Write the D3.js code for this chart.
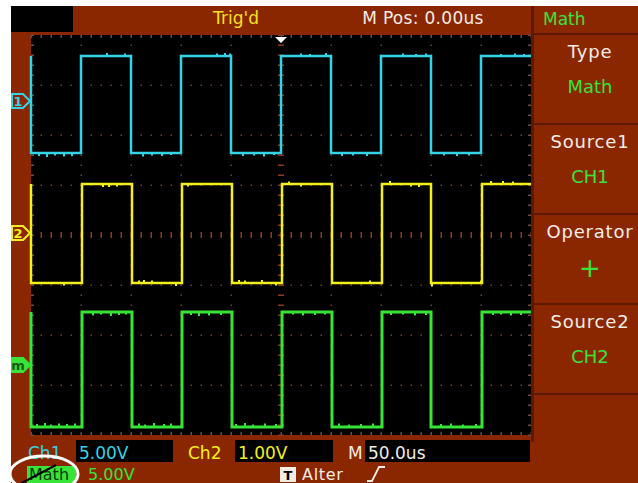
<!DOCTYPE html>
<html>
<head>
<meta charset="utf-8">
<script src="https://cdn.jsdelivr.net/npm/d3@7"></script>
<style>
  body { margin: 0; background: #fff; }
  svg { display: block; }
  text { font-family: "DejaVu Sans", sans-serif; }
</style>
</head>
<body>
<svg id="scope" width="638" height="483"></svg>
<script>
// Time base: 10 divisions of 50us, vertical: 8 divisions (values in screen divisions)
var timeDomain = [0, 500];
var divDomain = [-4, 4];

// Edge times (us) for each trace: first point is the falling edge at the left border
var ch1Edges = [0, 50, 100, 150, 200, 250, 300, 350, 400, 450];
var ch2Edges = [0, 51, 101, 151, 201, 251, 301, 351, 400, 451];
var mathEdges = [0, 51, 101, 151, 201, 251, 301, 351, 400, 451];

// High / low levels and ground marker (divisions from centre)
var ch1Levels = [3.58, 1.64];
var ch2Levels = [1.02, -0.96];
var mathLevels = [-1.54, -3.84];
var markerLevels = [2.68, 0.04, -2.6];

// Small noise spikes [time us, delta div]
var ch1Spikes = [[8, -0.06], [16, -0.08], [24, -0.05], [33, -0.07], [41, -0.06], [76, 0.06], [94, 0.05], [112, -0.07], [121, -0.05], [131, -0.06], [140, -0.04], [186, 0.05], [194, 0.06], [199, 0.05], [212, -0.06], [223, -0.05], [233, -0.07], [243, -0.04], [270, 0.05], [279, 0.04], [295, 0.06], [311, -0.06], [322, -0.05], [336, -0.06], [372, 0.05], [385, 0.04], [395, 0.05], [413, -0.05], [426, -0.06], [438, -0.05], [470, 0.04], [484, 0.05], [493, 0.04]];
var ch2Spikes = [[33, -0.05], [72, -0.06], [78, -0.06], [86, -0.05], [108, 0.05], [113, 0.06], [121, 0.05], [145, -0.06], [157, -0.05], [208, 0.06], [214, 0.05], [231, 0.06], [245, -0.05], [258, 0.05], [270, -0.05], [339, 0.05], [359, 0.06], [380, -0.05], [388, -0.06], [401, -0.07], [450, 0.05], [460, 0.06], [472, 0.06], [482, 0.05]];
var mathSpikes = [[6, 0.06], [14, 0.08], [20, 0.05], [28, 0.07], [36, 0.06], [44, 0.07], [62, -0.07], [70, -0.05], [80, -0.08], [88, -0.06], [95, -0.05], [108, 0.07], [114, 0.05], [123, 0.08], [133, 0.06], [140, 0.07], [160, -0.06], [168, -0.08], [178, -0.07], [190, -0.06], [205, 0.06], [214, 0.08], [222, 0.05], [234, 0.07], [245, 0.06], [262, -0.05], [272, -0.07], [284, -0.06], [294, -0.05], [308, 0.07], [318, 0.05], [330, 0.06], [342, 0.07], [360, -0.06], [372, -0.05], [384, -0.07], [395, -0.06], [410, 0.06], [420, 0.07], [432, 0.05], [445, 0.06], [462, -0.06], [470, -0.05], [480, -0.07], [490, -0.06]];

var panelLabels = ["Type", "Source1", "Operator", "Source2"];
var panelValues = ["Math", "CH1", "+", "CH2"];

var brown = "#8b2700";
var darkBrown = "#5e1800";
var cyan = "#35d3e6";
var yellow = "#f2f01c";
var green = "#37e437";
var gridColor = "#7a3a28";
var white = "#f2ece4";

var svg = d3.select("#scope");

// Background (white strip top and left as in the photo)
svg.append("rect").attr("x", 11).attr("y", 6).attr("width", 627).attr("height", 477).attr("fill", brown);
svg.append("rect").attr("x", 11).attr("y", 6).attr("width", 62).attr("height", 26).attr("fill", "#000");

// Plot area
var x = d3.scaleLinear().domain(timeDomain).range([31, 531]);
var y = d3.scaleLinear().domain(divDomain).range([435, 35]);
svg.append("rect").attr("x", x(0)).attr("y", y(4)).attr("width", x(500) - x(0)).attr("height", y(-4) - y(4)).attr("fill", "#000");

var grid = svg.append("g");
var majorT = d3.range(50, 500, 50);
var majorV = d3.range(-3, 4, 1);
// dotted vertical grid lines
majorT.forEach(function(t) {
    if (t === 250) return;
    d3.range(-4, 4.001, 0.2).forEach(function(v) {
        grid.append("rect").attr("x", x(t) - 0.5).attr("y", y(v) - 0.5).attr("width", 1.5).attr("height", 1.5).attr("fill", gridColor);
    });
});
// dotted horizontal grid lines
majorV.forEach(function(v) {
    if (v === 0) return;
    d3.range(0, 500.1, 10).forEach(function(t) {
        grid.append("rect").attr("x", x(t) - 0.5).attr("y", y(v) - 0.5).attr("width", 1.5).attr("height", 1.5).attr("fill", gridColor);
    });
});
// centre cross with ticks, border ticks
d3.range(0, 500.1, 10).forEach(function(t) {
    grid.append("rect").attr("x", x(t) - 0.5).attr("y", y(0) - 3).attr("width", 1.5).attr("height", 6).attr("fill", "#8a3a22");
    grid.append("rect").attr("x", x(t) - 0.5).attr("y", y(4)).attr("width", 1.5).attr("height", 3).attr("fill", "#6e4a40");
    grid.append("rect").attr("x", x(t) - 0.5).attr("y", y(-4) - 3).attr("width", 1.5).attr("height", 3).attr("fill", "#6e4a40");
});
d3.range(-4, 4.001, 0.2).forEach(function(v) {
    grid.append("rect").attr("x", x(250) - 3).attr("y", y(v) - 0.5).attr("width", 6).attr("height", 1.5).attr("fill", "#8a3a22");
    grid.append("rect").attr("x", x(0)).attr("y", y(v) - 0.5).attr("width", 3).attr("height", 1.5).attr("fill", "#6e4a40");
    grid.append("rect").attr("x", x(500) - 3).attr("y", y(v) - 0.5).attr("width", 3).attr("height", 1.5).attr("fill", "#6e4a40");
});

// Build square wave points from edge times
function wavePoints(edges, levels) {
    var pts = [{ t: 0, v: levels[0] }];
    edges.forEach(function(t, i) {
        pts.push({ t: t, v: i % 2 === 0 ? levels[1] : levels[0] });
    });
    pts.push({ t: 500, v: pts[pts.length - 1].v });
    return pts;
}

function levelAt(edges, levels, t) {
    var n = edges.filter(function(e) { return e <= t; }).length;
    return n % 2 === 1 ? levels[1] : levels[0];
}

var line = d3.line().x(function(d) { return x(d.t); }).y(function(d) { return y(d.v); }).curve(d3.curveStepAfter);

var traces = [
    { edges: ch1Edges, levels: ch1Levels, spikes: ch1Spikes, color: cyan, w: 2.5 },
    { edges: ch2Edges, levels: ch2Levels, spikes: ch2Spikes, color: yellow, w: 2.5 },
    { edges: mathEdges, levels: mathLevels, spikes: mathSpikes, color: green, w: 3 }
];

traces.forEach(function(tr) {
    svg.append("path").attr("d", line(wavePoints(tr.edges, tr.levels)))
        .attr("fill", "none").attr("stroke", tr.color).attr("stroke-width", tr.w);
    tr.spikes.forEach(function(s) {
        var base = levelAt(tr.edges, tr.levels, s[0]);
        svg.append("line").attr("x1", x(s[0])).attr("x2", x(s[0]))
            .attr("y1", y(base)).attr("y2", y(base + s[1]))
            .attr("stroke", tr.color).attr("stroke-width", 2);
    });
});

// Trigger position marker
svg.append("path").attr("d", "M" + (x(250) - 6) + "," + 37 + " h12 l-6,6 z").attr("fill", "#fff");

// Channel markers on the left
var markerColors = [cyan, yellow, green];
var markerText = ["1", "2", "m"];
markerLevels.forEach(function(v, i) {
    var cy = y(v);
    var shape = "M12," + (cy - 7) + " h11 l7,7 l-7,7 h-11 z";
    svg.append("path").attr("d", shape)
        .attr("fill", i === 2 ? green : brown)
        .attr("stroke", markerColors[i]).attr("stroke-width", 2);
    svg.append("text").attr("x", 18).attr("y", cy + 5).attr("text-anchor", "middle")
        .attr("font-size", 13).attr("font-weight", "bold")
        .attr("fill", i === 2 ? "#1a5a10" : markerColors[i]).text(markerText[i]);
});

// Top bar texts
svg.append("text").attr("x", 236).attr("y", 24).attr("text-anchor", "middle").attr("font-size", 17).attr("fill", "#f4e21a").text("Trig'd");
svg.append("text").attr("x", 423).attr("y", 24).attr("text-anchor", "middle").attr("font-size", 17).attr("letter-spacing", 0.3).attr("fill", white).text("M Pos: 0.00us");

// Right menu panel
svg.append("rect").attr("x", 531).attr("y", 6).attr("width", 3).attr("height", 436).attr("fill", darkBrown);
svg.append("rect").attr("x", 534).attr("y", 33).attr("width", 104).attr("height", 2).attr("fill", darkBrown);
svg.append("text").attr("x", 543).attr("y", 25).attr("font-size", 17).attr("fill", green).text("Math");

var sectionTop = d3.scaleLinear().domain([0, 4]).range([35, 395]);
panelLabels.forEach(function(lbl, i) {
    var top = sectionTop(i);
    svg.append("rect").attr("x", 534).attr("y", top + 88).attr("width", 104).attr("height", 2).attr("fill", darkBrown);
    svg.append("text").attr("x", 590).attr("y", top + 23).attr("text-anchor", "middle")
        .attr("font-size", 18).attr("letter-spacing", 0.8).attr("fill", white).text(lbl);
    svg.append("text").attr("x", 590).attr("y", top + (panelValues[i] === "+" ? 62 : 58)).attr("text-anchor", "middle")
        .attr("font-size", panelValues[i] === "+" ? 26 : 18).attr("fill", green).text(panelValues[i]);
});

// Bottom status bar
var bottomBoxes = [
    { label: "Ch1", lx: 28, bx: 76, bw: 97, value: "5.00V", color: cyan },
    { label: "Ch2", lx: 188, bx: 235, bw: 98, value: "1.00V", color: yellow },
    { label: "M", lx: 348, bx: 365, bw: 165, value: "50.0us", color: white }
];
bottomBoxes.forEach(function(b) {
    svg.append("text").attr("x", b.lx).attr("y", 459).attr("font-size", 17).attr("fill", b.color).text(b.label);
    svg.append("rect").attr("x", b.bx).attr("y", 440).attr("width", b.bw).attr("height", 22).attr("fill", "#000");
    svg.append("text").attr("x", b.bx + 3).attr("y", 459).attr("font-size", 17).attr("fill", b.color).text(b.value);
});

svg.append("rect").attr("x", 27).attr("y", 466).attr("width", 49).attr("height", 17).attr("fill", green);
svg.append("text").attr("x", 29).attr("y", 480).attr("font-size", 16).attr("fill", "#0a3a06").text("Math");
svg.append("text").attr("x", 88).attr("y", 480).attr("font-size", 16).attr("fill", green).text("5.00V");

svg.append("rect").attr("x", 280).attr("y", 467).attr("width", 16).attr("height", 15).attr("fill", white);
svg.append("text").attr("x", 288).attr("y", 480).attr("text-anchor", "middle").attr("font-size", 13).attr("font-weight", "bold").attr("fill", "#000").text("T");
svg.append("text").attr("x", 302).attr("y", 480).attr("font-size", 16).attr("letter-spacing", 0.7).attr("fill", white).text("Alter");
svg.append("path").attr("d", "M367,481 h5 l7,-14 h6").attr("fill", "none").attr("stroke", white).attr("stroke-width", 1.8);

// Annotation: circle and strike over "Math"
svg.append("ellipse").attr("cx", 44).attr("cy", 474).attr("rx", 34).attr("ry", 18)
    .attr("fill", "none").attr("stroke", "#fff").attr("stroke-width", 3);
svg.append("line").attr("x1", 16).attr("y1", 486).attr("x2", 56).attr("y2", 465)
    .attr("stroke", "#000").attr("stroke-width", 2);
</script>
</body>
</html>
